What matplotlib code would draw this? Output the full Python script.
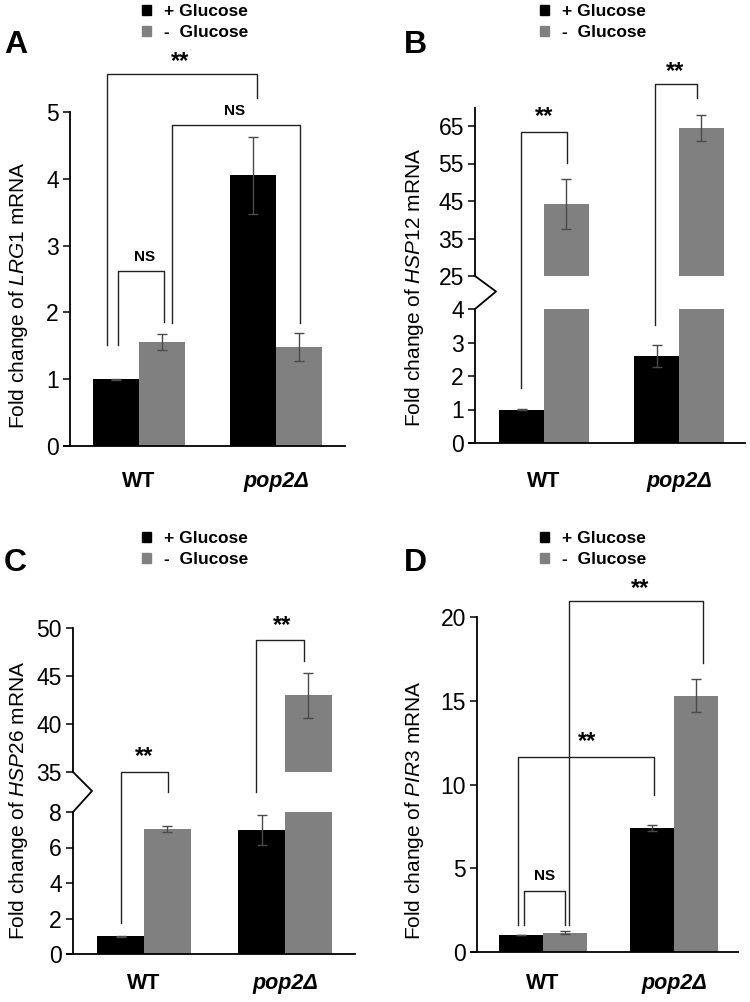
import numpy as np
import matplotlib
matplotlib.use('Agg')
import matplotlib.pyplot as plt
from matplotlib.lines import Line2D
from matplotlib.patches import Patch

plt.rcParams['font.family'] = ['Liberation Sans', 'DejaVu Sans']
plt.rcParams['mathtext.fontset'] = 'custom'
plt.rcParams['mathtext.rm'] = 'Liberation Sans'
plt.rcParams['mathtext.it'] = 'Liberation Sans:italic'
plt.rcParams['mathtext.bf'] = 'Liberation Sans:bold'

W, H = 750, 1002
pluscol = 'black'
minuscol = '#808080'
errcol = '#4a4a4a'
linecol = '#222222'
barw = 0.333

groups = ['WT', 'pop2Δ']
series_labels = ['+ Glucose', '-  Glucose']

# A: LRG1
lrg1_plus = [1.0, 4.05]
lrg1_plus_err = [0.01, 0.58]
lrg1_minus = [1.55, 1.48]
lrg1_minus_err = [0.12, 0.21]
# B: HSP12
hsp12_plus = [1.0, 2.6]
hsp12_plus_err = [0.01, 0.33]
hsp12_minus = [44.2, 64.5]
hsp12_minus_err = [6.7, 3.4]
# C: HSP26
hsp26_plus = [1.0, 7.0]
hsp26_plus_err = [0.03, 0.85]
hsp26_minus = [7.05, 43.0]
hsp26_minus_err = [0.15, 2.35]
# D: PIR3
pir3_plus = [1.0, 7.4]
pir3_plus_err = [0.01, 0.2]
pir3_minus = [1.15, 15.3]
pir3_minus_err = [0.08, 1.0]

fig = plt.figure(figsize=(W / 100, H / 100), dpi=100)


def make_ax(xa, c0, ppu, xr, ytop, ybot, lo=True):
    # pixel box -> axes; bottom spine sticks out 6 px left of the y axis
    x0 = xa - 6
    ax = fig.add_axes([x0 / W, 1 - ybot / H, (xr - x0) / W, (ybot - ytop) / H])
    ax.patch.set_visible(False)
    ax.set_xlim((x0 - c0) / ppu, (xr - c0) / ppu)
    ax.spines['left'].set_position(('data', (xa - c0) / ppu))
    ax.spines['top'].set_visible(False)
    ax.spines['right'].set_visible(False)
    for s in ('left', 'bottom'):
        ax.spines[s].set_linewidth(1.3)
    ax.tick_params(axis='y', length=5, width=1.1, labelsize=16.5, pad=3)
    if lo:
        ax.set_xticks(np.arange(len(groups)))
        ax.set_xticklabels(groups, fontsize=15.5, fontweight='bold')
        ax.get_xticklabels()[1].set_style('italic')
        ax.tick_params(axis='x', length=0)
    else:
        ax.spines['bottom'].set_visible(False)
        ax.set_xticks([])
    return ax


def bars(ax, plus, plus_err, minus, minus_err):
    x = np.arange(len(groups))
    ekw = dict(ecolor=errcol, elinewidth=1.0, capthick=1.0)
    ax.bar(x - barw / 2, plus, barw, color=pluscol, yerr=plus_err, capsize=3.5, error_kw=ekw)
    ax.bar(x + barw / 2, minus, barw, color=minuscol, yerr=minus_err, capsize=3.5, error_kw=ekw)


def fpt(ax, x, y):
    p = ax.transData.transform((x, y))
    return fig.transFigure.inverted().transform(p)


def bracket(p_left, p_top_ax, xl, xr, ytop, p_right):
    (axl, yl) = p_left
    (axr, yr) = p_right
    pts = [fpt(axl, xl, yl), fpt(p_top_ax, xl, ytop), fpt(p_top_ax, xr, ytop), fpt(axr, xr, yr)]
    fig.add_artist(Line2D([p[0] for p in pts], [p[1] for p in pts],
                          transform=fig.transFigure, color=linecol, lw=1.0))


def mark(ax, x, y, s):
    if s == 'NS':
        ax.text(x, y, s, ha='center', va='center', fontsize=11, fontweight='bold', clip_on=False)
    else:
        ax.text(x, y, s, ha='center', va='center', fontsize=17, fontweight='bold', clip_on=False)


def zigzag(ax_up, ax_lo, y_up, y_lo, dx):
    xs = ax_lo.spines['left'].get_position()[1]
    p1 = ax_up.transData.transform((xs, y_up))
    p3 = ax_lo.transData.transform((xs, y_lo))
    p2 = (p1[0] + dx, (p1[1] + p3[1]) / 2 + 1)
    inv = fig.transFigure.inverted()
    pts = [inv.transform(p) for p in (p1, p2, p3)]
    fig.add_artist(Line2D([p[0] for p in pts], [p[1] for p in pts],
                          transform=fig.transFigure, color='black', lw=1.3))


def legend(x, y):
    fig.legend(handles=[Patch(color=pluscol), Patch(color=minuscol)], labels=series_labels,
               loc='upper left', bbox_to_anchor=(x / W, 1 - y / H), frameon=False,
               prop=dict(weight='bold', size=12.5), handlelength=0.5, handleheight=0.5,
               handletextpad=0.75, labelspacing=0.35, borderpad=0, borderaxespad=0)


def ylabel(x, y, gene):
    fig.text(x / W, 1 - y / H, r'Fold change of $\mathit{' + gene + '}$ mRNA',
             rotation=90, ha='center', va='center', fontsize=15)


def letter(x, y, s):
    fig.text(x / W, 1 - y / H, s, ha='left', va='top', fontsize=23, fontweight='bold')


# ---- A
axA = make_ax(70, 139, 137, 345, 112, 446)
axA.set_ylim(0, 5)
axA.set_yticks(range(0, 6))
axA.tick_params(axis='x', pad=18)
bars(axA, lrg1_plus, lrg1_plus_err, lrg1_minus, lrg1_minus_err)
bracket((axA, 1.51), axA, -0.234, 0.861, 5.57, (axA, 5.21))
mark(axA, 0.30, 5.76, '**')
bracket((axA, 1.51), axA, -0.153, 0.182, 2.62, (axA, 1.86))
mark(axA, 0.04, 2.83, 'NS')
bracket((axA, 1.84), axA, 0.241, 1.175, 4.81, (axA, 1.84))
mark(axA, 0.70, 5.02, 'NS')
legend(142, 4)
letter(4, 30, 'A')
ylabel(19, 295, 'LRG1')

# ---- B (broken axis)
axB = make_ax(475, 544, 135, 745, 309, 443)
axB.set_ylim(0, 4)
axB.set_yticks(range(0, 5))
axB.tick_params(axis='x', pad=20)
axB2 = make_ax(475, 544, 135, 745, 108, 276, lo=False)
axB2.set_ylim(25, 69.8)
axB2.set_yticks(range(25, 66, 10))
for a in (axB, axB2):
    bars(a, hsp12_plus, hsp12_plus_err, hsp12_minus, hsp12_minus_err)
zigzag(axB2, axB, 25, 4, 21)
bracket((axB, 1.64), axB2, -0.17, 0.17, 63.4, (axB2, 55.1))
mark(axB2, 0.0, 67.4, '**')
bracket((axB, 3.52), axB2, 0.822, 1.133, 76.2, (axB2, 72.5))
mark(axB2, 0.97, 79.4, '**')
legend(540, 4)
letter(404, 30, 'B')
ylabel(415, 287, 'HSP12')

# ---- C (broken axis)
axC = make_ax(73, 144, 141, 355, 812, 954)
axC.set_ylim(0, 8)
axC.set_yticks(range(0, 9, 2))
axC.tick_params(axis='x', pad=14)
axC2 = make_ax(73, 144, 141, 355, 628, 772, lo=False)
axC2.set_ylim(35, 50)
axC2.set_yticks(range(35, 51, 5))
for a in (axC, axC2):
    bars(a, hsp26_plus, hsp26_plus_err, hsp26_minus, hsp26_minus_err)
zigzag(axC2, axC, 35, 8, 19)
bracket((axC, 1.75), axC, -0.163, 0.17, 10.25, (axC, 9.13))
mark(axC, 0.0, 11.1, '**')
bracket((axC, 9.13), axC2, 0.794, 1.135, 48.75, (axC2, 46.6))
mark(axC2, 0.98, 50.3, '**')
legend(142, 531)
letter(4, 548, 'C')
ylabel(19, 800, 'HSP26')

# ---- D
axD = make_ax(477, 543, 131, 738, 617, 952)
axD.set_ylim(0, 20)
axD.set_yticks(range(0, 21, 5))
axD.tick_params(axis='x', pad=15)
bars(axD, pir3_plus, pir3_plus_err, pir3_minus, pir3_minus_err)
bracket((axD, 1.6), axD, -0.145, 0.168, 3.64, (axD, 1.6))
mark(axD, 0.015, 4.55, 'NS')
bracket((axD, 1.6), axD, -0.19, 0.847, 11.65, (axD, 9.4))
mark(axD, 0.336, 12.55, '**')
bracket((axD, 1.6), axD, 0.198, 1.221, 20.95, (axD, 17.25))
mark(axD, 0.74, 21.7, '**')
legend(540, 531)
letter(404, 548, 'D')
ylabel(415, 810, 'PIR3')

fig.savefig('out.png', dpi=100)
